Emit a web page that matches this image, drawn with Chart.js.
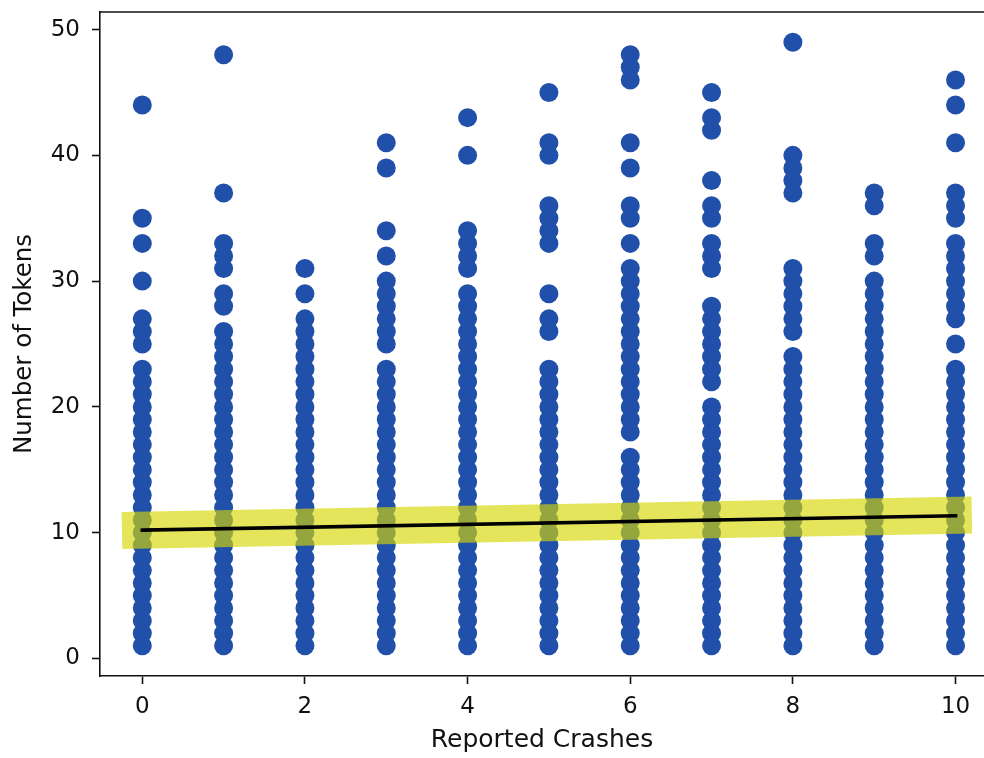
<!DOCTYPE html>
<html>
<head>
<meta charset="utf-8">
<script src="https://cdn.jsdelivr.net/npm/chart.js@4.4.1/dist/chart.umd.min.js"></script>
<style>
  html, body { margin: 0; padding: 0; background: #fff; }
  #grafico { display: block; }
</style>
</head>
<body>
<canvas id="grafico" width="984" height="758"></canvas>
<script>
// token counts per number of reported crashes (x = 0 .. 10)
const crashes = [0, 1, 2, 3, 4, 5, 6, 7, 8, 9, 10];
const tokens0 = [44, 35, 33, 30, 27, 26, 25, 23, 22, 21, 20, 19, 18, 17, 16, 15, 14, 13, 12, 11, 10, 9, 8, 7, 6, 5, 4, 3, 2, 1];
const tokens1 = [48, 37, 33, 32, 31, 29, 28, 26, 25, 24, 23, 22, 21, 20, 19, 18, 17, 16, 15, 14, 13, 12, 11, 10, 9, 8, 7, 6, 5, 4, 3, 2, 1];
const tokens2 = [31, 29, 27, 26, 25, 24, 23, 22, 21, 20, 19, 18, 17, 16, 15, 14, 13, 12, 11, 10, 9, 8, 7, 6, 5, 4, 3, 2, 1];
const tokens3 = [41, 39, 34, 32, 30, 29, 28, 27, 26, 25, 23, 22, 21, 20, 19, 18, 17, 16, 15, 14, 13, 12, 11, 10, 9, 8, 7, 6, 5, 4, 3, 2, 1];
const tokens4 = [43, 40, 34, 33, 32, 31, 29, 28, 27, 26, 25, 24, 23, 22, 21, 20, 19, 18, 17, 16, 15, 14, 13, 12, 11, 10, 9, 8, 7, 6, 5, 4, 3, 2, 1];
const tokens5 = [45, 41, 40, 36, 35, 34, 33, 29, 27, 26, 23, 22, 21, 20, 19, 18, 17, 16, 15, 14, 13, 12, 11, 10, 9, 8, 7, 6, 5, 4, 3, 2, 1];
const tokens6 = [48, 47, 46, 41, 39, 36, 35, 33, 31, 30, 29, 28, 27, 26, 25, 24, 23, 22, 21, 20, 19, 18, 16, 15, 14, 13, 12, 11, 10, 9, 8, 7, 6, 5, 4, 3, 2, 1];
const tokens7 = [45, 43, 42, 38, 36, 35, 33, 32, 31, 28, 27, 26, 25, 24, 23, 22, 20, 19, 18, 17, 16, 15, 14, 13, 12, 11, 10, 9, 8, 7, 6, 5, 4, 3, 2, 1];
const tokens8 = [49, 40, 39, 38, 37, 31, 30, 29, 28, 27, 26, 24, 23, 22, 21, 20, 19, 18, 17, 16, 15, 14, 13, 12, 11, 10, 9, 8, 7, 6, 5, 4, 3, 2, 1];
const tokens9 = [37, 36, 33, 32, 30, 29, 28, 27, 26, 25, 24, 23, 22, 21, 20, 19, 18, 17, 16, 15, 14, 13, 12, 11, 10, 9, 8, 7, 6, 5, 4, 3, 2, 1];
const tokens10 = [46, 44, 41, 37, 36, 35, 33, 32, 31, 30, 29, 28, 27, 25, 23, 22, 21, 20, 19, 18, 17, 16, 15, 14, 13, 12, 11, 10, 9, 8, 7, 6, 5, 4, 3, 2, 1];
const tokensByCrashes = [tokens0, tokens1, tokens2, tokens3, tokens4, tokens5, tokens6, tokens7, tokens8, tokens9, tokens10];

// fitted trend: black line and the wide yellow band behind it
const trendX = [0, 10];
const trendY = [10.2, 11.35];
const bandX = [-0.25, 10.2];
const bandY = [10.17, 11.4];

const xTicks = [0, 2, 4, 6, 8, 10];
const yTicks = [0, 10, 20, 30, 40, 50];

const puntos = [];
crashes.forEach((c, i) => {
  tokensByCrashes[i].forEach(t => puntos.push({ x: c, y: t }));
});
const linea = trendX.map((x, i) => ({ x, y: trendY[i] }));
const banda = bandX.map((x, i) => ({ x, y: bandY[i] }));

const fuente = "'DejaVu Sans', sans-serif";
const negro = "#111";

// top spine (left and bottom come from the axis borders)
const marcoSuperior = {
  id: "marcoSuperior",
  afterDraw(chart) {
    const { ctx, chartArea } = chart;
    ctx.save();
    ctx.strokeStyle = negro;
    ctx.lineWidth = 1.6;
    ctx.beginPath();
    ctx.moveTo(chartArea.left, chartArea.top);
    ctx.lineTo(chartArea.right, chartArea.top);
    ctx.stroke();
    ctx.restore();
  }
};

// keep the edge tick labels from pushing the plot area inwards
const sinRelleno = axis => {
  axis.paddingTop = 0;
  axis.paddingBottom = 0;
  axis.paddingLeft = 0;
  axis.paddingRight = 0;
};

new Chart(document.getElementById("grafico"), {
  type: "scatter",
  data: {
    datasets: [
      {
        data: puntos,
        backgroundColor: "#2150aa",
        borderWidth: 0,
        pointRadius: 9.5,
        order: 3
      },
      {
        type: "line",
        data: banda,
        borderColor: "rgba(215, 215, 0, 0.64)",
        borderWidth: 37,
        borderCapStyle: "butt",
        pointRadius: 0,
        fill: false,
        clip: false,
        order: 2
      },
      {
        type: "line",
        data: linea,
        borderColor: "#000",
        borderWidth: 3.5,
        borderCapStyle: "square",
        pointRadius: 0,
        fill: false,
        order: 1
      }
    ]
  },
  options: {
    responsive: false,
    animation: false,
    events: [],
    layout: { autoPadding: false, padding: { top: 12, right: 0, left: 0, bottom: 0 } },
    plugins: { legend: { display: false }, tooltip: { enabled: false } },
    scales: {
      x: {
        type: "linear",
        min: -0.52,
        max: 10.35,
        afterBuildTicks: axis => { axis.ticks = xTicks.map(v => ({ value: v })); },
        afterFit: axis => { axis.height = 82; sinRelleno(axis); },
        grid: { display: true, drawOnChartArea: false, drawTicks: true, tickLength: 8, color: negro, tickWidth: 1.6 },
        border: { display: true, color: negro, width: 1.6 },
        ticks: { color: negro, font: { family: fuente, size: 23 }, padding: 9, maxRotation: 0 },
        title: { display: true, text: "Reported Crashes", color: negro, font: { family: fuente, size: 25 }, padding: { top: 0, bottom: 3 } }
      },
      y: {
        type: "linear",
        min: -1.4,
        max: 51.4,
        afterBuildTicks: axis => { axis.ticks = yTicks.map(v => ({ value: v })); },
        afterFit: axis => { axis.width = 100; sinRelleno(axis); },
        grid: { display: true, drawOnChartArea: false, drawTicks: true, tickLength: 8, color: negro, tickWidth: 1.6 },
        border: { display: true, color: negro, width: 1.6 },
        ticks: { color: negro, font: { family: fuente, size: 23 }, padding: 12 },
        title: { display: true, text: "Number of Tokens", color: negro, font: { family: fuente, size: 24.5 }, padding: { top: 10, bottom: 0 } }
      }
    }
  },
  plugins: [marcoSuperior]
});
</script>
</body>
</html>
